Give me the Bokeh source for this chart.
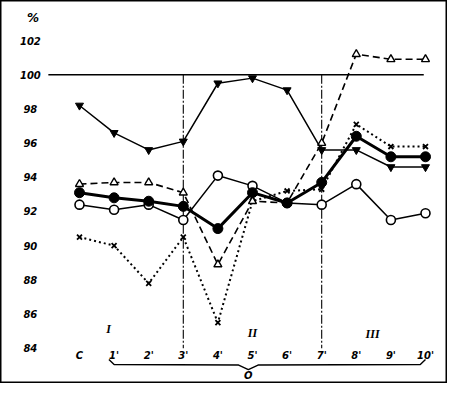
from bokeh.plotting import figure
from bokeh.models import Range1d, ColumnDataSource
from bokeh.core.properties import value
from bokeh.embed import file_html
from bokeh.resources import INLINE

# ---- data ----
categories = ["C", "1'", "2'", "3'", "4'", "5'", "6'", "7'", "8'", "9'", "10'"]
tri_down = [98.2, 96.6, 95.6, 96.1, 99.5, 99.8, 99.1, 95.6, 95.6, 94.6, 94.6]
tri_open = [93.6, 93.7, 93.7, 93.1, 88.9, 92.6, 92.5, 96.0, 101.2, 100.9, 100.9]
circ_filled = [93.1, 92.8, 92.6, 92.3, 91.0, 93.1, 92.5, 93.7, 96.4, 95.2, 95.2]
circ_open = [92.4, 92.1, 92.4, 91.5, 94.1, 93.5, 92.5, 92.4, 93.6, 91.5, 91.9]
cross = [90.5, 90.0, 87.8, 90.5, 85.5, 92.6, 93.2, 93.3, 97.1, 95.8, 95.8]
y_ticks = [84, 86, 88, 90, 92, 94, 96, 98, 100, 102]
y_tick_labels = ["84", "86", "88", "90", "92", "94", "96", "98", "100", "102"]
phase_labels = ["I", "II", "III"]
reference_level = 100
phase_breaks = [3, 7]
group_label = "O"

xs = list(range(len(categories)))
FONT = value("DejaVu Sans")

p = figure(width=447, height=383, x_range=Range1d(-2.283, 10.636),
           y_range=Range1d(81.94, 104.34), output_backend="svg",
           toolbar_location=None, min_border=0,
           x_axis_location=None, y_axis_location=None)
p.grid.visible = False
p.outline_line_color = "black"
p.outline_line_width = 2
p.background_fill_color = "white"
p.border_fill_color = "white"

# 100 % reference line
p.line([-0.9, 9.95], [reference_level, reference_level], line_color="black", line_width=1.6)

# phase boundaries (dash-dot verticals)
for b in phase_breaks:
    p.line([b, b], [reference_level, 84.0], line_color="black", line_width=1.1,
           line_dash="9 2 2 2")

# series
src = ColumnDataSource(dict(x=xs, td=tri_down, to=tri_open, cf=circ_filled,
                            co=circ_open, cr=cross))

p.line("x", "cr", source=src, line_color="black", line_width=2, line_dash="2 3")
p.scatter("x", "cr", source=src, marker="x", size=7, line_color="black", line_width=1.8)

p.line("x", "to", source=src, line_color="black", line_width=1.6, line_dash="7 4")
p.scatter("x", "to", source=src, marker="triangle", size=8, line_color="black",
          fill_color="white", line_width=1.4)

p.line("x", "co", source=src, line_color="black", line_width=1.5)
p.scatter("x", "co", source=src, marker="circle", size=9, line_color="black",
          fill_color="white", line_width=1.6)

p.line("x", "cf", source=src, line_color="black", line_width=3)
p.scatter("x", "cf", source=src, marker="circle", size=10, line_color="black",
          fill_color="black")

p.line("x", "td", source=src, line_color="black", line_width=1.5)
p.scatter("x", "td", source=src, marker="inverted_triangle", size=8, line_color="black",
          fill_color="black")

# y tick labels
p.text(x=[-1.42] * len(y_ticks), y=y_ticks, text=y_tick_labels, text_align="center",
       text_baseline="middle", text_font=FONT, text_font_style="bold italic",
       text_font_size="10px", text_color="black")
p.text(x=[-1.34], y=[103.3], text=["%"], text_align="center", text_baseline="middle",
       text_font=FONT, text_font_style="bold italic", text_font_size="12px",
       text_color="black")

# x category labels
p.text(x=xs, y=[83.58] * len(xs), text=categories, text_align="center",
       text_baseline="middle", text_font=FONT, text_font_style="bold italic",
       text_font_size="10px", text_color="black")

# phase labels
p.text(x=[0.84, 5.0, 8.47], y=[85.15, 84.9, 84.85], text=phase_labels,
       text_align="center", text_baseline="middle", text_font=value("Liberation Serif"),
       text_font_style="bold italic", text_font_size="12px", text_color="black")

# brace under 1'..10'
bx = [0.85, 1.0, 4.6, 4.88, 5.16, 9.85, 10.0]
by = [83.35, 83.05, 83.02, 82.75, 83.02, 83.05, 83.35]
p.line(bx, by, line_color="black", line_width=1.4)
p.text(x=[4.88], y=[82.4], text=[group_label], text_align="center", text_baseline="middle",
       text_font=FONT, text_font_style="bold italic", text_font_size="10px",
       text_color="black")

open("out.html", "w").write(file_html(p, INLINE))
